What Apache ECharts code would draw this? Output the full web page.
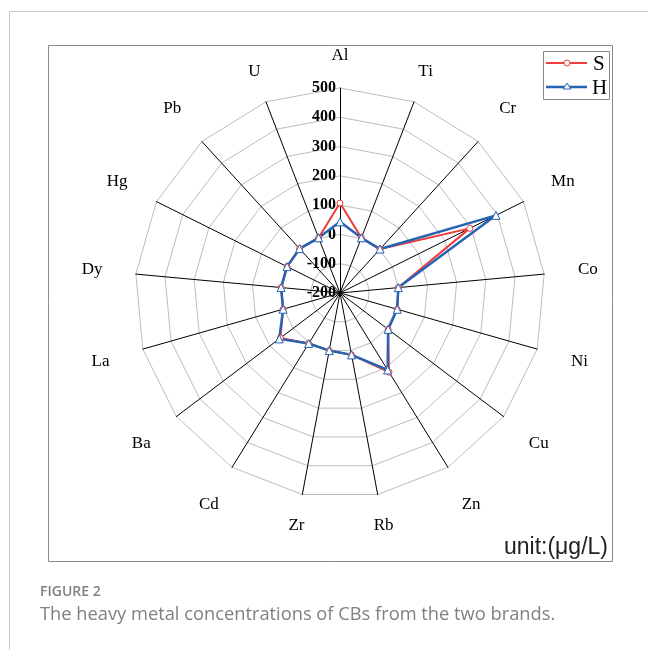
<!DOCTYPE html>
<html>
<head>
<meta charset="utf-8">
<script src="https://cdn.jsdelivr.net/npm/echarts@6/dist/echarts.min.js"></script>
<style>
  html,body{margin:0;padding:0;background:#fff;}
  #main{width:648px;height:650px;}
</style>
</head>
<body>
<div id="main"></div>
<script>
// 元素名称（顺时针，从Al开始）
var elements = ['Al','Ti','Cr','Mn','Co','Ni','Cu','Zn','Rb','Zr','Cd','Ba','La','Dy','Hg','Pb','U'];
// 两个品牌的浓度 (μg/L)
var sValues = [107, 2, 3, 295, 0, 3, 6, 118, 15, 0, 3, 55, 2, 2, 2, 5, 2];
var hValues = [43, 2, 3, 395, 0, 3, 6, 109, 15, 0, 3, 60, 2, 2, 2, 5, 2];
var axisMin = -200;
var axisMax = 500;

var redColor = '#ee3b3b';
var blueColor = '#2563b3';

// echarts雷达图是逆时针排列，第一个之后反转顺序
function clockwise(arr){
	return [arr[0]].concat(arr.slice(1).reverse());
}

var n = elements.length;
var indicators = clockwise(elements).map(function(name, i){
	// 名称居中放置，接近竖直的轴离得近一些
	var ang = i * 2 * Math.PI / n;
	var ind = {
		name: name,
		min: axisMin,
		max: axisMax,
		nameGap: Math.abs(Math.sin(ang)) < 0.4 ? 32 : 44
	};
	if(i === 0){
		ind.axisLabel = {
			show: true,
			color: '#000',
			fontWeight: 'bold',
			fontSize: 16,
			fontFamily: 'Liberation Serif',
			margin: 4
		};
	}
	return ind;
});

var chart = echarts.init(document.getElementById('main'));
var options = {
	backgroundColor: '#ffffff',
	animation: false,
	radar: {
		center: [340, 293],
		radius: 205,
		startAngle: 90,
		shape: 'polygon',
		splitNumber: 7,
		indicator: indicators,
		axisName: {
			color: '#000',
			fontFamily: 'Liberation Serif',
			fontSize: 17,
			align: 'center',
			verticalAlign: 'middle'
		},
		splitLine: {lineStyle: {color: '#bdbdbd', width: 1}},
		splitArea: {show: false},
		axisLine: {lineStyle: {color: '#000', width: 1}},
		axisTick: {show: false},
		axisLabel: {show: false}
	},
	series: [
		{
			type: 'radar',
			silent: true,
			data: [
				{
					name: 'S',
					value: clockwise(sValues),
					symbol: 'circle',
					symbolSize: 6,
					itemStyle: {color: '#fff', borderColor: redColor, borderWidth: 1},
					lineStyle: {color: redColor, width: 2}
				},
				{
					name: 'H',
					value: clockwise(hValues),
					symbol: 'triangle',
					symbolSize: 8,
					itemStyle: {color: '#fff', borderColor: blueColor, borderWidth: 1},
					lineStyle: {color: blueColor, width: 2.5}
				}
			]
		}
	],
	graphic: [
		// 页面外框
		{type: 'line', shape: {x1: 9.5, y1: 11.5, x2: 648, y2: 11.5}, style: {stroke: '#c8c8c8', lineWidth: 1}},
		{type: 'line', shape: {x1: 9.5, y1: 11.5, x2: 9.5, y2: 650}, style: {stroke: '#c8c8c8', lineWidth: 1}},
		// 图框
		{type: 'rect', shape: {x: 48.5, y: 45.5, width: 564, height: 516}, style: {fill: 'none', stroke: '#8a8a8a', lineWidth: 1}},
		// 图例
		{type: 'rect', shape: {x: 543.5, y: 51.5, width: 66, height: 48}, style: {fill: 'none', stroke: '#888', lineWidth: 1}},
		{type: 'line', shape: {x1: 546, y1: 63, x2: 587, y2: 63}, style: {stroke: redColor, lineWidth: 2}},
		{type: 'circle', shape: {cx: 567, cy: 63, r: 3}, style: {fill: '#fff', stroke: redColor, lineWidth: 1}},
		{type: 'text', x: 593, y: 64, style: {text: 'S', font: '21px "Liberation Serif"', fill: '#000', verticalAlign: 'middle'}},
		{type: 'line', shape: {x1: 546, y1: 87, x2: 587, y2: 87}, style: {stroke: blueColor, lineWidth: 2.5}},
		{type: 'polygon', shape: {points: [[567, 83], [571, 89], [563, 89]]}, style: {fill: '#fff', stroke: blueColor, lineWidth: 1}},
		{type: 'text', x: 592, y: 88, style: {text: 'H', font: '21px "Liberation Serif"', fill: '#000', verticalAlign: 'middle'}},
		// 单位
		{type: 'text', x: 608, y: 548, style: {text: 'unit:(μg/L)', font: '23px "Liberation Sans"', fill: '#222', align: 'right', verticalAlign: 'middle'}},
		// 图注
		{type: 'text', x: 40, y: 592, style: {text: 'FIGURE 2', font: '600 14px "Open Sans"', fill: '#808080', verticalAlign: 'middle'}},
		{type: 'text', x: 40, y: 615, style: {text: 'The heavy metal concentrations of CBs from the two brands.', font: '18.3px "Open Sans"', fill: '#808080', verticalAlign: 'middle'}}
	]
};
chart.setOption(options);
</script>
</body>
</html>
